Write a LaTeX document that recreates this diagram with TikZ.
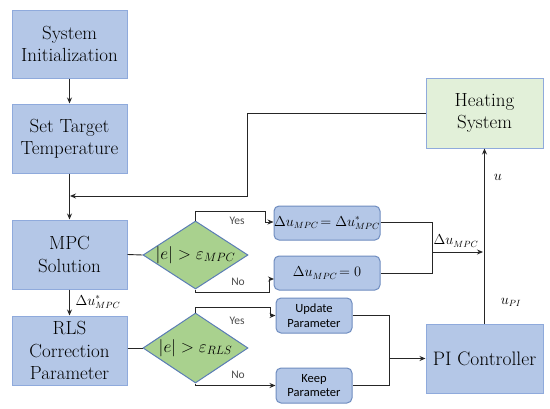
\documentclass[tikz,border=0pt]{standalone}
\usepackage{fontspec}
\newfontfamily\calfont{Carlito}
\usetikzlibrary{shapes.geometric,arrows.meta}
\definecolor{bfill}{HTML}{B4C7E7}
\definecolor{bdraw}{HTML}{8FAADC}
\definecolor{gfill}{HTML}{E2F0D9}
\definecolor{dfill}{HTML}{A9D18E}
\definecolor{ddraw}{HTML}{5B7DB5}
\definecolor{rdraw}{HTML}{6F8DC0}
\definecolor{lcol}{HTML}{262626}
\tikzset{
  bigbox/.style={draw=bdraw, fill=bfill, line width=1pt, minimum width=115pt, minimum height=69pt, inner sep=0pt, align=center, font=\rmfamily\fontsize{19}{22.5}\selectfont},
  heatbox/.style={bigbox, fill=gfill},
  pibox/.style={bigbox, minimum width=117pt, font=\rmfamily\fontsize{19.5}{24}\selectfont},
  dia/.style={diamond, draw=ddraw, fill=dfill, line width=1pt, minimum width=105pt, minimum height=68pt, inner sep=0pt},
  rbox/.style={draw=rdraw, fill=bfill, rounded corners=5pt, line width=1pt, minimum width=106pt, minimum height=34pt, inner sep=0pt, font=\fontsize{13.5}{16}\selectfont},
  sbox/.style={rbox, minimum width=76pt, minimum height=35pt, align=center, font=\calfont\fontsize{12.5}{14.5}\selectfont},
  yn/.style={font=\calfont\fontsize{11.5}{13}\selectfont, text=black!70},
  conn/.style={draw=lcol, line width=0.9pt},
  arr/.style={conn, -{Stealth[length=6pt,width=5pt]}},
  lab/.style={font=\fontsize{13.5}{15}\selectfont, inner sep=0pt}
}
\begin{document}
\begin{tikzpicture}[x=1pt,y=-1pt]
\useasboundingbox[fill=white] (0,0) rectangle (550,408);
% main boxes
\node[bigbox, minimum height=68pt] (init) at (69.5,44) {System\\Initialization};
\node[bigbox] (target) at (69.5,138.5) {Set Target\\Temperature};
\node[bigbox] (mpc) at (69.5,254.5) {MPC\\Solution};
\node[bigbox] (rls) at (69.5,350.5) {RLS\\Correction\\Parameter};
\node[heatbox, minimum width=117pt, minimum height=70pt] (heat) at (484.5,113) {Heating\\System};
\node[pibox] (pi) at (484.5,358.5) {PI Controller};
% diamonds
\node[dia] (d1) at (195.5,255) {};
\node[font=\fontsize{17.5}{19}\selectfont, inner sep=0pt] (d1t) at (d1) {$|e| > \varepsilon_{MPC}$};
\node[dia, minimum height=70pt] (d2) at (195.5,348) {};
\node[font=\fontsize{17.5}{19}\selectfont, inner sep=0pt] (d2t) at (d2) {$|e| > \varepsilon_{RLS}$};
% result boxes
\node[rbox] (b1) at (327,223) {$\Delta u_{MPC}\!= \Delta u^{*}_{MPC}$};
\node[rbox] (b2) at (327,273) {$\Delta u_{MPC}\!= 0$};
\node[sbox] (up) at (314,315.5) {Update\\Parameter};
\node[sbox] (keep) at (314,385.5) {Keep\\Parameter};
% coordinates
\coordinate (fb1) at (247,113);
\coordinate (fb2) at (247,196);
\coordinate (fb3) at (70,196);
\coordinate (y1a) at (195.5,211);
\coordinate (y1b) at (265,211);
\coordinate (y1c) at (265,222);
\coordinate (n1a) at (195.5,292);
\coordinate (n1b) at (269,292);
\coordinate (n1c) at (269,279);
\coordinate (n1d) at (274,279);
\coordinate (m1) at (432,222);
\coordinate (m2) at (432,273);
\coordinate (m3) at (432,252);
\coordinate (m4) at (483,252);
\coordinate (y2a) at (195.5,307);
\coordinate (y2b) at (270,307);
\coordinate (y2c) at (270,315.5);
\coordinate (n2a) at (195.5,385.5);
\coordinate (p1) at (389,315.5);
\coordinate (p2) at (389,385.5);
\coordinate (p3) at (389,358.5);
% connectors
\draw[arr] (init) -- (target);
\draw[arr] (target) -- (mpc);
\draw[arr] (heat.west |- fb1) -- (fb1) -- (fb2) -- (fb3);
\draw[conn] (mpc.east) -- (d1.west);
\draw[arr] (d1.north) -- (y1a) -- (y1b) -- (y1c) -- (b1.west |- y1c);
\draw[arr] (d1.south) -- (n1a) -- (n1b) -- (n1c) -- (n1d);
\draw[conn] (b1.east |- m1) -- (m1) -- (m2) -- (b2.east |- m2);
\draw[arr] (m3) -- (m4);
\draw[arr] (pi.north) -- (heat.south);
\draw[arr] (mpc) -- (rls);
\draw[conn] (rls.east |- d2) -- (d2.west);
\draw[arr] (d2.north) -- (y2a) -- (y2b) -- (y2c) -- (up.west);
\draw[arr] (d2.south) -- (n2a) -- (keep.west);
\draw[conn] (up.east) -- (p1) -- (p2) -- (keep.east);
\draw[arr] (p3) -- (pi.west);
% labels
\node[yn] (yes1) at (237,221) {Yes};
\node[yn] (no1) at (238,282) {No};
\node[yn] (yes2) at (237,321) {Yes};
\node[yn] (no2) at (238,375) {No};
\node[lab] (lm) at (456,241) {$\Delta u_{MPC}$};
\node[lab] (lu) at (498,177) {$u$};
\node[lab] (lpi) at (511,302) {$u_{PI}$};
\node[lab] (lstar) at (98,302) {$\Delta u^{*}_{MPC}$};
\end{tikzpicture}
\end{document}
